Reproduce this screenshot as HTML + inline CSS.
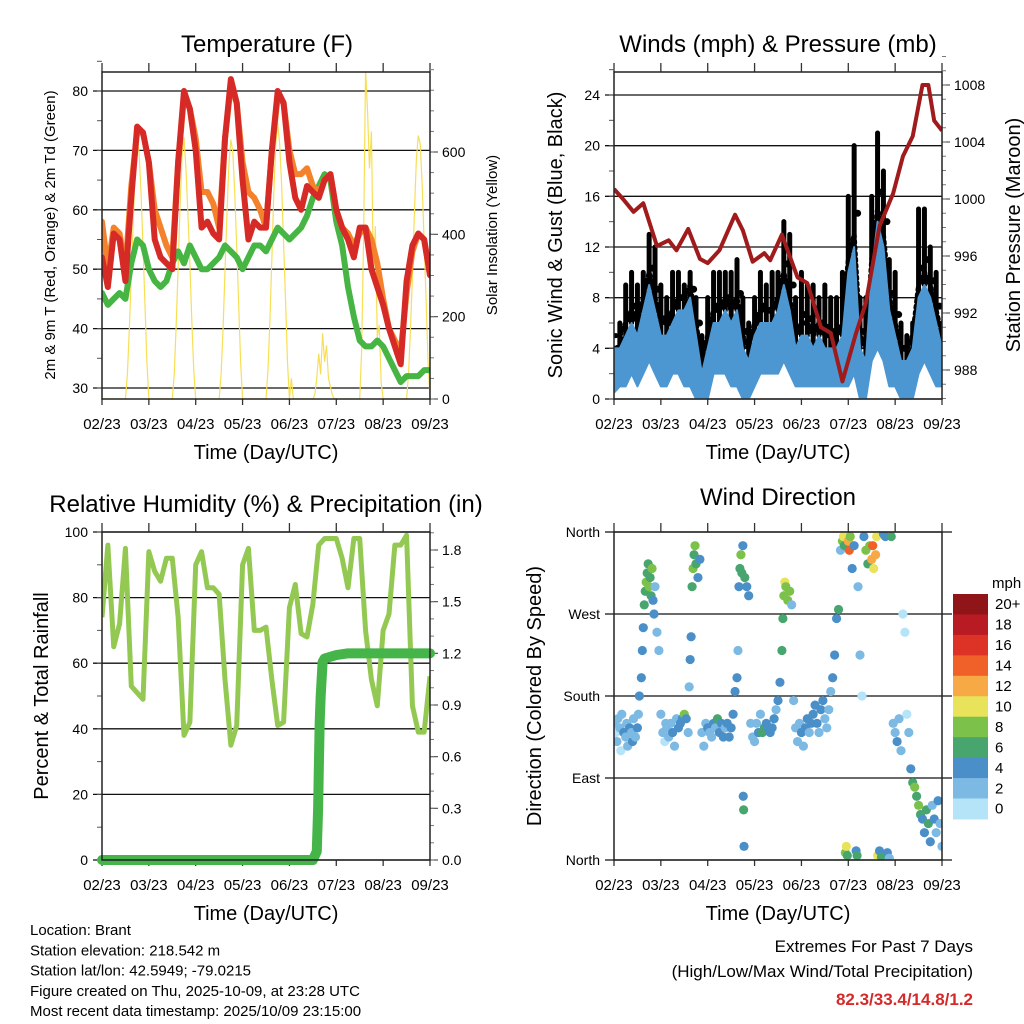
<!DOCTYPE html>
<html><head><meta charset="utf-8">
<style>
body{margin:0;background:#fff;}
svg{display:block;font-family:"Liberation Sans",sans-serif;}
</style></head>
<body>
<svg id="c" width="1024" height="1024" viewBox="0 0 1024 1024" xmlns="http://www.w3.org/2000/svg"></svg>
<script>
// ---------- DATA ----------
const dayLabels = ["02/23","03/23","04/23","05/23","06/23","07/23","08/23","09/23"];
// 3-hourly samples t = 0,3,...,168 hours
const tempRed = [52,47,56,55,48,62,74,73,68,55,52,51,50,68,80,77,70,57,58,56,55,72,82,78,65,55,58,57,57,70,80,78,68,62,60,64,63,62,65,66,60,57,55,52,57,57,50,47,44,40,37,34,48,54,56,55,49];
const tempOrange = [58,50,57,56,50,64,73,73,68,60,57,54,52,68,79,77,72,63,63,61,57,72,81,78,68,63,62,60,57,70,79,78,70,66,66,67,64,63,65,66,60,57,56,54,56,57,55,51,45,40,38,36,46,53,56,55,49];
const dewGreen = [46,44,45,46,45,51,55,54,50,48,47,48,51,53,51,54,52,50,50,51,52,54,53,52,50,52,54,54,53,55,57,56,55,56,57,59,62,64,66,65,58,54,47,42,38,37,37,38,37,35,33,31,32,32,32,33,33];
const solarTimes = [0,12,13,14,15,16,17,18,19,20,21,22,23,24,36,37,38,39,40,41,42,43,44,45,46,47,48,60,61,62,63,64,65,66,67,68,69,70,71,72,84,85,86,87,88,89,90,91,92,93,94,95,96,97,98,108,109,110,111,112,113,114,115,116,117,118,119,132,133,134,135,136,137,138,139,140,141,142,143,144,156,157,158,159,160,161,162,163,164,165,166,167,168];
const solarValues = [0,0,60,170,300,430,560,630,600,500,370,230,90,0,0,60,180,320,470,590,635,560,450,330,190,70,0,0,60,170,310,450,570,630,600,500,370,230,90,0,0,70,190,340,500,620,670,620,520,380,240,90,0,50,0,0,10,50,110,60,160,90,130,50,30,10,0,0,120,400,800,700,560,650,300,420,150,180,40,0,0,60,170,300,450,580,640,620,520,380,240,90,0];

const windLow  = [0.5,1,1,2,1,2,3,2,1,1,2,2,1,1,0,0,0,2,2,2,1,1,0,0,1,2,2,2,2,3,2,1,1,1,1,1,1,1,1,1,1,2,0,0,3,4,3,1,1,0,0,0,2,3,2,1,1];
const windHigh = [4,4,5,6,5,7,9,7,5,5,6,7,7,8,5,2,4,6,6,7,6,7,4,3,5,6,6,6,7,9,7,4,5,5,4,5,4,4,4,5,10,12,4,3,10,14,12,7,5,3,3,4,8,9,8,6,4];
const gustHigh = [4,6,9,10,9,10,13,12,9,8,10,10,9,10,8,5,8,10,10,10,10,11,8,6,8,10,9,10,10,14,13,8,10,9,9,8,9,8,8,10,16,20,8,8,16,21,18,11,10,6,5,6,15,15,12,10,6];
const pressTimes = [0,4.6,10,15,22,28,32,38,44,48,54,62,66,71,77,80,86,94,99,106,111,117,124,129,136,143,148,153,158,161,164,168];
const pressValues = [1000.7,1000.0,999.1,999.7,996.7,997.1,996.4,997.9,995.8,995.5,996.4,998.9,997.8,995.6,996.2,995.7,997.5,994.5,994.1,991.0,990.6,987.2,990.6,992.7,998.1,1000.4,1003.0,1004.4,1008.0,1008.0,1005.5,1004.8];

const rhValues = [74,96,65,72,95,53,51,49,94,88,85,92,92,74,38,42,90,94,83,83,81,55,35,41,90,95,70,70,71,55,41,42,77,84,69,68,78,96,98,98,98,92,83,98,98,70,55,47,70,75,96,96,99,47,39,39,56];
const precipTimes = [0,108,110,110.7,111,111.5,112,113,114,120,126,168];
const precipValues = [0,0,0.05,0.3,0.5,0.8,0.95,1.15,1.17,1.19,1.2,1.2];

const dirTimes = [0,1,1.5,2,3,3.5,4,5,6,6.5,7,8,9,9.5,10,11,12,12.5,13,14,14.5,15,15.5,16,16.5,17,17.5,18,18.5,19,19.5,20,20.5,21,22,23,24,25,26,26.5,27,28,29,30,31,32,33,34,35,36,37,38,38.5,39,39.5,40,40.5,41,41.5,42,43,44,45,46,47,48,49,50,51,52,53,54,55,56,57,58,59,60,61,62,63,63.5,64,64.5,65,65.5,66,66.2,66.4,66.6,67,68,69,70,71,72,73,74,75,76,77,78,79,80,81,82,83,84,85,86,86.5,87,87.5,88,89,90,91,92,93,94,95,96,97,98,99,100,101,102,103,104,105,106,107,108,109,110,111,112,113,114,115,116,117,117.5,118,118.5,119,119.5,120,120.5,121,122,123,124,124.5,125,126,127,128,129,130,131,132,132.5,133,134,134.5,135,136,137,138,139,140,141,142,143,144,145,146,147,148,149,150,151,152,153,154,155,156,157,158,159,160,161,162,163,164,165,166,167,168];
const dirDegrees = [150,140,130,155,145,120,160,140,135,150,125,145,140,130,155,135,145,160,180,200,230,255,280,295,305,315,325,300,310,290,320,285,270,300,250,230,160,140,130,150,145,135,150,140,125,155,145,150,155,160,155,140,190,220,245,300,320,335,345,325,310,330,140,125,150,145,140,135,150,145,155,140,150,135,145,150,135,145,160,185,200,230,300,320,335,315,345,70,55,15,310,300,290,150,135,130,150,140,160,140,145,150,145,140,145,155,165,175,195,230,265,290,305,300,285,295,280,175,145,130,150,140,125,145,155,140,150,160,170,150,140,165,175,155,145,165,185,200,225,265,275,340,350,355,345,8,15,5,350,340,355,320,345,10,5,300,225,180,355,340,325,345,330,345,320,335,355,5,10,3,358,355,8,2,355,150,140,130,155,120,270,250,160,140,100,85,80,70,60,50,45,30,55,40,20,60,45,30,65,40,15];
const dirSpeeds = [2,1,3,2,3,1,2,4,3,2,3,4,3,4,2,3,5,3,4,4,5,4,6,7,8,7,6,8,7,6,8,4,5,3,2,2,3,2,1,3,2,3,2,4,2,3,5,4,5,8,4,3,3,4,5,6,8,7,8,6,5,4,2,3,2,4,2,3,4,3,6,4,5,4,3,5,4,4,4,5,4,3,5,6,8,7,5,4,6,4,7,5,4,2,2,3,2,4,2,7,7,4,5,4,4,4,3,5,4,6,6,8,10,8,9,8,2,3,2,3,2,4,3,5,4,2,4,4,5,4,3,4,4,3,2,3,3,4,4,5,6,3,8,10,6,9,10,7,12,14,9,5,4,4,6,2,2,1,4,8,6,9,12,14,10,12,11,10,4,6,5,4,4,3,6,2,3,4,3,2,1,1,1,2,4,6,8,7,8,6,5,4,7,6,4,3,5,3,4,2,3];

const speedColors = ["#b5e3f8","#7cb9e3","#4a8fc8","#48a56e","#7cc24a","#e8e35a","#f6a945","#ef6128","#dd3327","#b81b23","#8f1519"];
const speedLabels = ["0","2","4","6","8","10","12","14","16","18","20+"];

// ---------- HELPERS ----------
const NS="http://www.w3.org/2000/svg";
const svg=document.getElementById('c');
function el(tag,attrs,parent){const e=document.createElementNS(NS,tag);for(const k in attrs)e.setAttribute(k,attrs[k]);(parent||svg).appendChild(e);return e;}
function txt(s,x,y,size,anchor,parent,extra){const t=el('text',Object.assign({x:x,y:y,'font-size':size,'text-anchor':anchor||'middle',fill:'#000'},extra||{}),parent);t.textContent=s;return t;}
const T=[];for(let i=0;i<=168;i+=3)T.push(i);

function panel(id,x0,x1,y0,y1){
  const g=el('g',{});
  
  
  const cp=el('clipPath',{id:'clip-'+id},g);el('rect',{x:x0,y:y0,width:x1-x0,height:y1-y0},cp);
  const xs=t=>x0+t/168*(x1-x0);
  const xt=el('g',{},g);
  
  
  dayLabels.forEach((lab,i)=>{const x=xs(i*24);
    el('line',{x1:x,x2:x,y1:y0-9,y2:y0,stroke:'#333','stroke-width':1.3},xt);
    el('line',{x1:x,x2:x,y1:y1,y2:y1+6,stroke:'#333','stroke-width':1.3},xt);
    const l=txt(lab,x,y1+30,15,'middle',xt);
    
    
  });
  const xl=txt('Time (Day/UTC)',(x0+x1)/2,y1+60,20,'middle',g);
  
  
  return {g,xs,clip:'url(#clip-'+id+')'};
}
function yAxisLeft(g,x0,x1,vals,labels,ys,minorVals,size){
  const a=el('g',{},g);
  
  
  vals.forEach((v,i)=>{const y=ys(v);
    el('line',{x1:x0-9,x2:x1,y1:y,y2:y,stroke:'#111','stroke-width':1.3},a);
    txt(labels[i],x0-14,y+5,size||14,'end',a);
  });
  minorVals.forEach(v=>{const y=ys(v);el('line',{x1:x0-5,x2:x0,y1:y,y2:y,stroke:'#555','stroke-width':1},a);});
}
function yAxisRight(g,x1,vals,labels,ys,minorVals){
  const a=el('g',{},g);
  
  
  vals.forEach((v,i)=>{const y=ys(v);
    el('line',{x1:x1,x2:x1+8,y1:y,y2:y,stroke:'#555','stroke-width':1.2},a);
    txt(labels[i],x1+12,y+5,14,'start',a);
  });
  minorVals.forEach(v=>{const y=ys(v);el('line',{x1:x1,x2:x1+4,y1:y,y2:y,stroke:'#777','stroke-width':1},a);});
}
function frame(g,x0,x1,y0,y1){el('rect',{x:x0,y:y0,width:x1-x0,height:y1-y0,fill:'none',stroke:'#222','stroke-width':1.5},g);}
function range(a,b,s){const r=[];for(let v=a;v<=b+1e-9;v+=s)r.push(+v.toFixed(3));return r;}
function vtitle(s,x,y,size,g){const t=txt(s,x,y,size,'middle',g,{transform:`rotate(-90 ${x} ${y})`});return t;}
function ptitle(s,x,y,g){const t=txt(s,x,y,24,'middle',g);}

// ---------- PANEL 1 : TEMPERATURE ----------
(function(){
  const x0=102,x1=430,y0=72,y1=399;
  const p=panel('temperature-panel',x0,x1,y0,y1);
  const ys=v=>388-(v-30)*(388-91)/50;
  const ss=v=>399-v*(399-152)/600;
  yAxisLeft(p.g,x0,x1,[30,40,50,60,70,80],["30","40","50","60","70","80"],ys,range(30,85,5),14);
  yAxisRight(p.g,x1,[0,200,400,600],["0","200","400","600"],ss,range(0,800,50));
  ptitle('Temperature (F)',267,52,p.g);
  vtitle('2m & 9m T (Red, Orange) & 2m Td (Green)',55,235,15,p.g);
  vtitle('Solar Insolation (Yellow)',497,235,15,p.g);
  const d=el('g',{'clip-path':p.clip},p.g);
  const sol=el('polyline',{points:solarTimes.map((t,i)=>p.xs(t)+','+ss(solarValues[i])).join(' '),fill:'none',stroke:'#f7df55','stroke-width':1.2},d);
  
  
  [[dewGreen,'#46b544','dewpoint-line'],[tempOrange,'#f4812b','temp-9m-line'],[tempRed,'#d62a26','temp-2m-line']].forEach(([arr,c,n])=>{
    const l=el('polyline',{points:T.map((t,i)=>p.xs(t)+','+ys(arr[i])).join(' '),fill:'none',stroke:c,'stroke-width':6,'stroke-linejoin':'round','stroke-linecap':'round'},d);
    
    
  });
  frame(p.g,x0,x1,y0,y1);
})();

// ---------- PANEL 2 : WINDS & PRESSURE ----------
(function(){
  const x0=614,x1=942,y0=72,y1=399;
  const p=panel('winds-panel',x0,x1,y0,y1);
  const ys=v=>399-v*(399-95)/24;
  const ps=v=>370-(v-988)*(370-85)/20;
  yAxisLeft(p.g,x0,x1,[0,4,8,12,16,20,24],["0","4","8","12","16","20","24"],ys,range(0,26,2),14);
  yAxisRight(p.g,x1,[988,992,996,1000,1004,1008],["988","992","996","1000","1004","1008"],ps,range(986,1010,1));
  ptitle('Winds (mph) & Pressure (mb)',778,52,p.g);
  vtitle('Sonic Wind & Gust (Blue, Black)',562,235,20,p.g);
  vtitle('Station Pressure (Maroon)',1020,235,20,p.g);
  const d=el('g',{'clip-path':p.clip},p.g);
  T.forEach((t,i)=>{
    const x=p.xs(t);
    const b=el('line',{x1:x,x2:x,y1:ys(windHigh[i]),y2:ys(gustHigh[i]),stroke:'#000','stroke-width':5,'stroke-linecap':'round'},d);
    
    
    const c2=el('circle',{cx:x+3.5,cy:ys((windHigh[i]*2+gustHigh[i])/3),r:3.5,fill:'#000'},d);
    
    
  });
  const gl=el('polyline',{points:T.map((t,i)=>p.xs(t)+','+ys(windHigh[i]+1)).join(' '),fill:'none',stroke:'#000','stroke-width':5,'stroke-dasharray':'2 4','stroke-linecap':'round'},d);
  
  
  const band=T.map((t,i)=>p.xs(t)+','+ys(windHigh[i])).concat(T.slice().reverse().map((t,j)=>{const i=T.length-1-j;return p.xs(t)+','+ys(windLow[i]);}));
  const bp=el('polygon',{points:band.join(' '),fill:'#4c97d2',stroke:'#4c97d2','stroke-width':2,'stroke-linejoin':'round'},d);
  
  
  const pl=el('polyline',{points:pressTimes.map((t,i)=>p.xs(t)+','+ps(pressValues[i])).join(' '),fill:'none',stroke:'#a01c1c','stroke-width':4,'stroke-linejoin':'round'},d);
  
  
  frame(p.g,x0,x1,y0,y1);
})();

// ---------- PANEL 3 : RH & PRECIP ----------
(function(){
  const x0=102,x1=430,y0=532,y1=860;
  const p=panel('humidity-panel',x0,x1,y0,y1);
  const ys=v=>860-v*(860-532)/100;
  const rs=v=>860-v*(860-550)/1.8;
  yAxisLeft(p.g,x0,x1,[0,20,40,60,80,100],["0","20","40","60","80","100"],ys,range(0,100,10),14);
  yAxisRight(p.g,x1,[0,0.3,0.6,0.9,1.2,1.5,1.8],["0.0","0.3","0.6","0.9","1.2","1.5","1.8"],rs,range(0,1.9,0.1));
  ptitle('Relative Humidity (%) & Precipitation (in)',266,512,p.g);
  vtitle('Percent & Total Rainfall',48,696,20,p.g);
  const d=el('g',{},p.g);
  const rh=el('polyline',{points:T.map((t,i)=>p.xs(t)+','+ys(rhValues[i])).join(' '),fill:'none',stroke:'#93c952','stroke-width':5,'stroke-linejoin':'round','clip-path':p.clip},d);
  
  
  const pr=el('polyline',{points:precipTimes.map((t,i)=>p.xs(t)+','+rs(precipValues[i])).join(' '),fill:'none',stroke:'#45b549','stroke-width':10,'stroke-linejoin':'round','stroke-linecap':'round'},d);
  
  
  frame(p.g,x0,x1,y0,y1);
})();

// ---------- PANEL 4 : WIND DIRECTION ----------
(function(){
  const x0=614,x1=942,y0=532,y1=860;
  const p=panel('wind-direction-panel',x0,x1,y0,y1);
  const ys=v=>860-v*(860-532)/360;
  yAxisLeft(p.g,x0,x1+10,[0,90,180,270,360],["North","East","South","West","North"],ys,[],14);
  ptitle('Wind Direction',778,505,p.g);
  vtitle('Direction (Colored By Speed)',541,696,20,p.g);
  const d=el('g',{'clip-path':p.clip},p.g);
  const col=s=>speedColors[Math.min(10,Math.floor(s/2))];
  dirTimes.forEach((t,i)=>{
    const c=el('circle',{cx:p.xs(t),cy:ys(dirDegrees[i]),r:4.6,fill:col(dirSpeeds[i])},d);
    
    
  });
  frame(p.g,x0,x1,y0,y1);
  const cb=el('g',{},svg);
  
  
  txt('mph',992,588,15,'start',cb);
  const top=594,h=20.45;
  for(let k=0;k<11;k++){const idx=10-k;
    el('rect',{x:953,y:top+k*h,width:35,height:h+0.5,fill:speedColors[idx]},cb);
    txt(speedLabels[idx],995,top+k*h+h/2+5,15,'start',cb);
  }
})();

// ---------- FOOTER ----------
(function(){
  const f=el('g',{},svg);
  
  
  ["Location: Brant","Station elevation: 218.542 m","Station lat/lon: 42.5949; -79.0215","Figure created on Thu, 2025-10-09, at 23:28 UTC","Most recent data timestamp: 2025/10/09 23:15:00"].forEach((s,i)=>txt(s,30,935+i*20.3,15,'start',f));
  const e=el('g',{},svg);
  
  
  txt('Extremes For Past 7 Days',973,952,17,'end',e);
  txt('(High/Low/Max Wind/Total Precipitation)',973,977,17,'end',e);
  txt('82.3/33.4/14.8/1.2',973,1005,17,'end',e,{fill:'#d42a2a','font-weight':'bold'});
})();
</script>
</body></html>
